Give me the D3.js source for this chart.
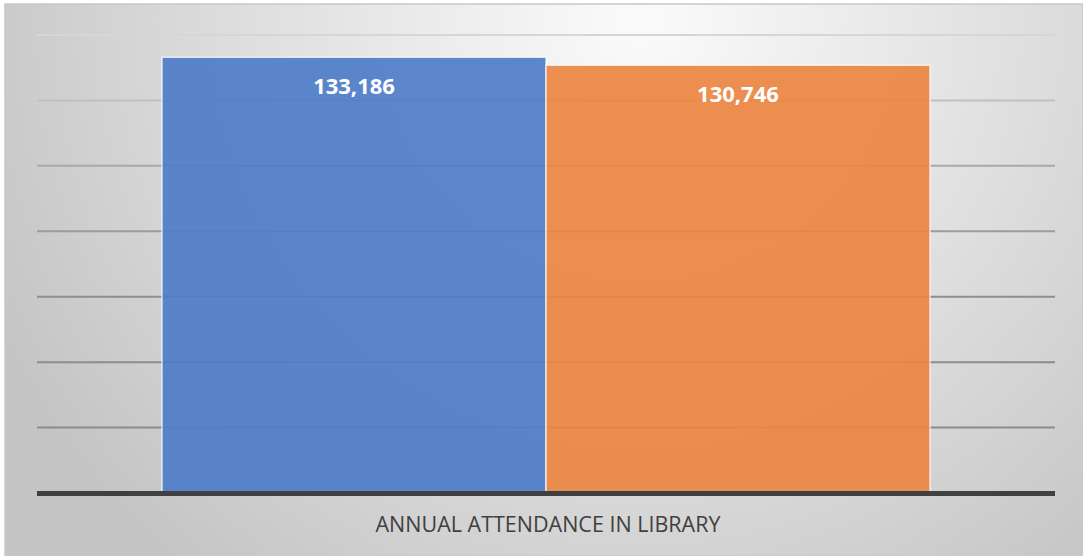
<!DOCTYPE html>
<html>
<head>
<meta charset="utf-8">
<script src="https://cdn.jsdelivr.net/npm/d3@7"></script>
<style>
  html, body { margin: 0; padding: 0; background: #fff; }
  svg { display: block; }
</style>
</head>
<body>
<div id="chart"></div>
<script>
// data
var categories = ['ANNUAL ATTENDANCE IN LIBRARY']
var seriesNames = ['Year 1', 'Year 2']
var values = [133186, 130746]
var yTicks = [0, 20000, 40000, 60000, 80000, 100000, 120000, 140000]
var seriesColors = ['#4f7dc9', '#ed8543']

var W = 1083, H = 556
var margin = {top: 35, right: 28, bottom: 63, left: 37}

var svg = d3.select('#chart')
  .append('svg')
  .attr('width', W)
  .attr('height', H)

var defs = svg.append('defs')
var bg = defs.append('radialGradient')
  .attr('id', 'bg')
  .attr('gradientUnits', 'userSpaceOnUse')
  .attr('cx', 640).attr('cy', 20).attr('r', 720)
bg.append('stop').attr('offset', '0%').attr('stop-color', '#fbfbfb')
bg.append('stop').attr('offset', '55%').attr('stop-color', '#dedede')
bg.append('stop').attr('offset', '100%').attr('stop-color', '#c4c4c4')

// chart frame
svg.append('rect')
  .attr('x', 5).attr('y', 4)
  .attr('width', W - 5).attr('height', H - 4)
  .attr('fill', 'url(#bg)')
  .attr('stroke', '#c8c8c8')
  .attr('stroke-width', 1.5)

var g = svg.append('g')

var x0 = d3.scaleBand()
  .domain(categories)
  .range([margin.left, W - margin.right])
  .paddingInner(0.14)
  .paddingOuter(0.14)

var x1 = d3.scaleBand()
  .domain(seriesNames)
  .range([0, x0.bandwidth()])
  .padding(0)

var y = d3.scaleLinear()
  .domain([0, 140000])
  .range([H - margin.bottom, margin.top])

var gridColor = d3.scaleLinear()
  .domain([0, 60000, 100000, 140000])
  .range(['#8a8a8a', '#8e8e8e', '#a9a9a9', '#d6d6d6'])

// gridlines
g.selectAll('.grid')
  .data(yTicks.filter(d => d > 0))
  .enter()
  .append('line')
  .attr('class', 'grid')
  .attr('x1', margin.left)
  .attr('x2', W - margin.right)
  .attr('y1', d => y(d))
  .attr('y2', d => y(d))
  .attr('stroke', d => gridColor(d))
  .attr('stroke-width', 2)

// bars
var cat = g.selectAll('.cat')
  .data(categories)
  .enter()
  .append('g')
  .attr('class', 'cat')
  .attr('transform', d => 'translate(' + x0(d) + ',0)')

cat.selectAll('rect')
  .data(seriesNames.map((s, i) => ({ key: s, value: values[i], color: seriesColors[i] })))
  .enter()
  .append('rect')
  .attr('x', d => x1(d.key))
  .attr('y', d => y(d.value))
  .attr('width', x1.bandwidth())
  .attr('height', d => y(0) - y(d.value))
  .attr('fill', d => d.color)
  .attr('fill-opacity', 0.92)
  .attr('stroke', '#ffffff')
  .attr('stroke-opacity', 0.7)
  .attr('stroke-width', 1.5)

cat.selectAll('.val')
  .data(seriesNames.map((s, i) => ({ key: s, value: values[i] })))
  .enter()
  .append('text')
  .attr('class', 'val')
  .attr('x', d => x1(d.key) + x1.bandwidth() / 2)
  .attr('y', d => y(d.value) + 37)
  .attr('text-anchor', 'middle')
  .attr('font-family', '"Open Sans", sans-serif')
  .attr('font-weight', 700)
  .attr('font-size', 22)
  .attr('fill', '#ffffff')
  .text(d => d3.format(',')(d.value))

// baseline
g.append('line')
  .attr('x1', margin.left)
  .attr('x2', W - margin.right)
  .attr('y1', y(0) + 0.5)
  .attr('y2', y(0) + 0.5)
  .attr('stroke', '#404040')
  .attr('stroke-width', 5)

// category label
g.selectAll('.cat-label')
  .data(categories)
  .enter()
  .append('text')
  .attr('class', 'cat-label')
  .attr('x', d => x0(d) + x0.bandwidth() / 2 + 2)
  .attr('y', 532)
  .attr('text-anchor', 'middle')
  .attr('font-family', '"Open Sans", sans-serif')
  .attr('font-size', 21.5)
  .attr('fill', '#404040')
  .text(d => d)
</script>
</body>
</html>
